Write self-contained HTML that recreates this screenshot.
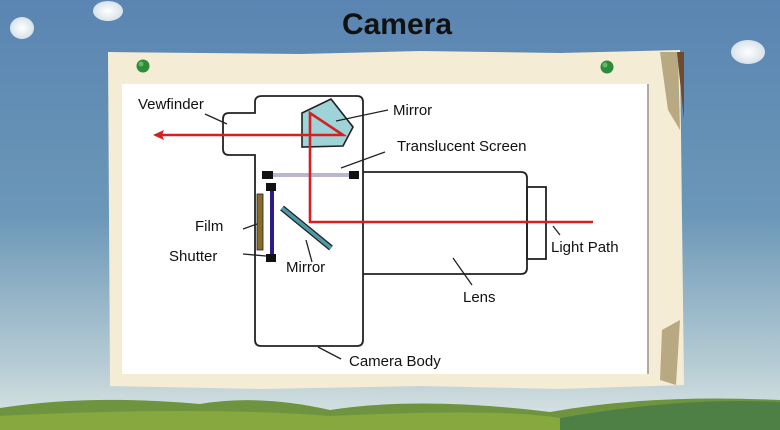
<!DOCTYPE html>
<html><head><meta charset="utf-8"><style>
html,body{margin:0;padding:0;width:780px;height:430px;overflow:hidden}
svg{display:block}
text{font-family:"Liberation Sans",Arial,sans-serif;fill:#111}
</style></head><body>
<svg width="780" height="430" viewBox="0 0 780 430" xmlns="http://www.w3.org/2000/svg">
<defs>
<linearGradient id="sky" x1="0" y1="0" x2="0" y2="1">
<stop offset="0" stop-color="#5a85b2"/>
<stop offset="0.5" stop-color="#6b97b8"/>
<stop offset="0.85" stop-color="#b6ccd4"/>
<stop offset="1" stop-color="#dfe7e4"/>
</linearGradient>
<radialGradient id="cl"><stop offset="0" stop-color="#fff"/><stop offset="1" stop-color="#d8e2ea"/></radialGradient>
</defs>
<rect width="780" height="430" fill="url(#sky)"/>
<!-- clouds -->
<ellipse cx="108" cy="11" rx="15" ry="10" fill="url(#cl)"/>
<ellipse cx="22" cy="28" rx="12" ry="11" fill="url(#cl)"/>
<ellipse cx="748" cy="52" rx="17" ry="12" fill="url(#cl)"/>
<!-- hills -->
<path d="M0 408 Q90 394 200 404 Q260 394 330 410 Q420 396 550 412 Q650 394 780 400 L780 430 L0 430Z" fill="#6f9440"/>
<path d="M0 416 Q200 406 330 416 Q500 408 560 418 Q680 400 780 408 L780 430 L0 430Z" fill="#86a83f"/>
<path d="M560 418 Q680 397 780 402 L780 430 L560 430Z" fill="#4e7f44"/>
<!-- title -->
<text x="397" y="34" text-anchor="middle" font-size="30" font-weight="bold" fill="#0c0c14">Camera</text>
<!-- paper -->
<path d="M108 52 L300 54 L420 51 L560 53 L680 50 L684 385 L560 389 L420 386 L260 389 L110 386 Z" fill="#f4ecd4"/>
<path d="M660 52 L678 52 L680 130 L668 110 Z" fill="#b8a982"/>
<path d="M677 52 L684 52 L684 120 Z" fill="#6e4a30"/>
<path d="M660 380 L662 330 L680 320 L676 385 Z" fill="#b8a982"/>
<rect x="122" y="84" width="526" height="290" fill="#fff"/>
<rect x="647" y="84" width="2" height="290" fill="#b0aba0"/>
<!-- pins -->
<circle cx="143" cy="66" r="6.5" fill="#2f8a3c"/><circle cx="141" cy="64" r="2.5" fill="#5dbd66"/>
<circle cx="607" cy="67" r="6.5" fill="#2f8a3c"/><circle cx="605" cy="65" r="2.5" fill="#5dbd66"/>
<!-- camera body -->
<path d="M262 96 H357 Q363 96 363 102 V340 Q363 346 357 346 H261 Q255 346 255 340 V155 H229 Q223 155 223 149 V119 Q223 113 229 113 H255 V102 Q255 96 262 96 Z" fill="none" stroke="#222" stroke-width="1.8"/>
<!-- lens -->
<path d="M363 172 H521 Q527 172 527 178 V268 Q527 274 521 274 H363" fill="none" stroke="#222" stroke-width="1.8"/>
<rect x="527" y="187" width="19" height="72" fill="none" stroke="#222" stroke-width="1.8"/>
<!-- prism -->
<polygon points="302,113 331,99 353,127 343,146 302,147" fill="#9ed3d8" stroke="#222" stroke-width="1.6"/>
<!-- translucent screen -->
<rect x="266" y="173" width="88" height="4" fill="#b9b6d0"/>
<rect x="262" y="171" width="11" height="8" fill="#111"/>
<rect x="349" y="171" width="10" height="8" fill="#111"/>
<!-- shutter -->
<rect x="270" y="186" width="4" height="70" fill="#2a1a8a"/>
<rect x="266" y="183" width="10" height="8" fill="#111"/>
<rect x="266" y="254" width="10" height="8" fill="#111"/>
<!-- film -->
<rect x="257" y="194" width="6" height="56" fill="#8a6c2a" stroke="#222" stroke-width="0.8"/>
<!-- mirror -->
<line x1="282" y1="208" x2="331" y2="248" stroke="#222" stroke-width="6"/>
<line x1="282" y1="208" x2="331" y2="248" stroke="#4c9aa8" stroke-width="3.5"/>
<!-- light path -->
<g stroke="#d42020" stroke-width="2.6" fill="none">
<polyline points="593,222 310,222 310,113 343,135 160,135"/>
</g>
<polygon points="153,135 164,130 162,135 164,140" fill="#d42020"/>
<!-- leaders -->
<g stroke="#222" stroke-width="1.3">
<line x1="205" y1="114" x2="227" y2="124"/>
<line x1="388" y1="110" x2="336" y2="121"/>
<line x1="385" y1="152" x2="341" y2="168"/>
<line x1="243" y1="229" x2="257" y2="224"/>
<line x1="243" y1="254" x2="266" y2="256"/>
<line x1="312" y1="262" x2="306" y2="240"/>
<line x1="553" y1="226" x2="560" y2="235"/>
<line x1="453" y1="258" x2="472" y2="285"/>
<line x1="318" y1="347" x2="341" y2="359"/>
</g>
<!-- labels -->
<g font-size="15">
<text x="138" y="109">Vewfinder</text>
<text x="393" y="115">Mirror</text>
<text x="397" y="151">Translucent Screen</text>
<text x="195" y="231">Film</text>
<text x="169" y="261">Shutter</text>
<text x="286" y="272">Mirror</text>
<text x="551" y="252">Light Path</text>
<text x="463" y="302">Lens</text>
<text x="349" y="366">Camera Body</text>
</g>
</svg>
</body></html>
